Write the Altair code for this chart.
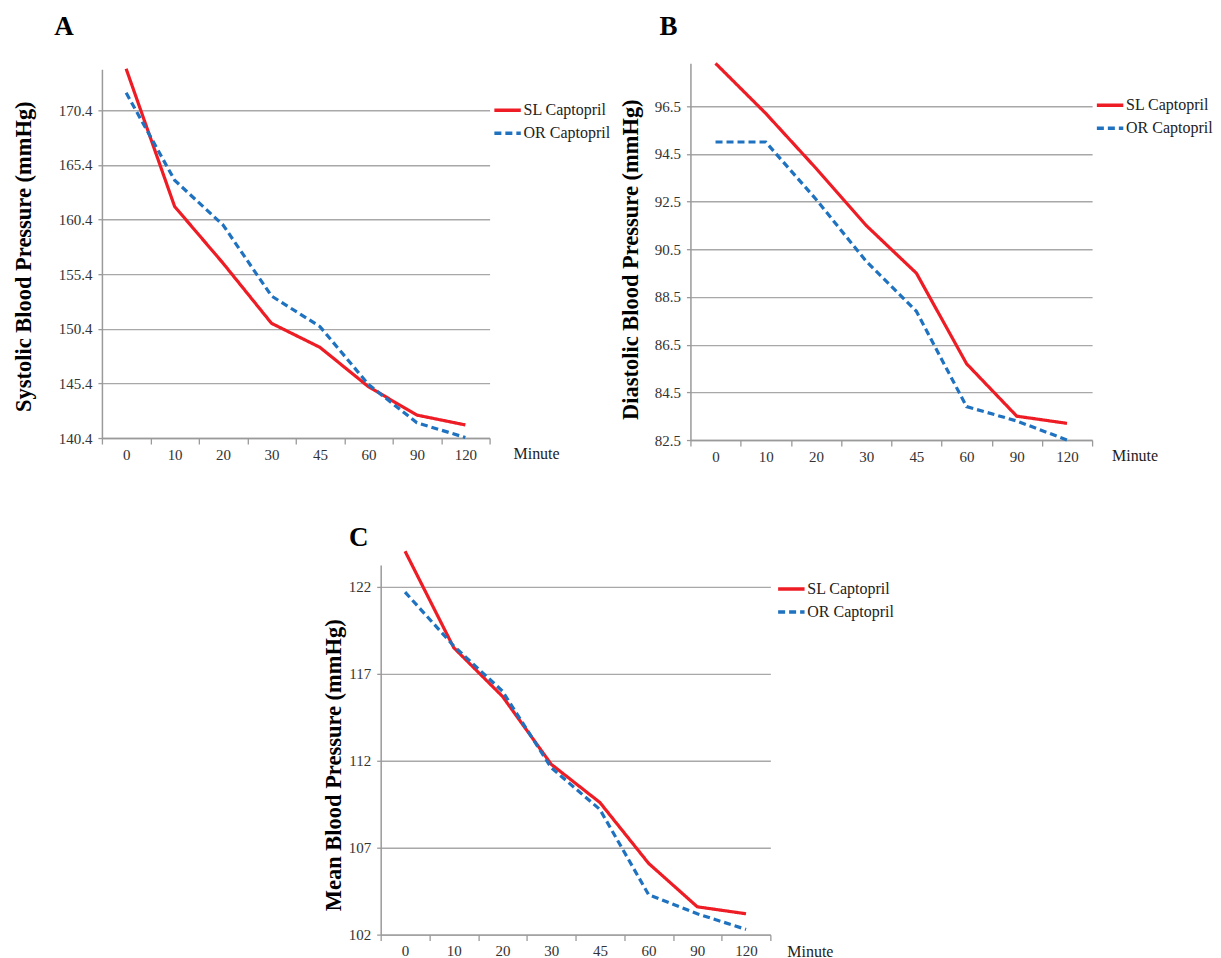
import altair as alt
import pandas as pd

minutes = ["0", "10", "20", "30", "45", "60", "90", "120"]
series = ["SL Captopril", "OR Captopril"]
colors = ["#EE1C24", "#1F72BF"]

sbp_sl = [174.2, 161.6, 156.4, 150.9, 148.7, 145.1, 142.5, 141.6]
sbp_or = [172.0, 164.0, 159.9, 153.4, 150.6, 145.3, 141.8, 140.45]
dbp_sl = [98.3, 96.2, 93.9, 91.5, 89.5, 85.7, 83.5, 83.2]
dbp_or = [95.0, 95.0, 92.6, 90.0, 87.9, 83.9, 83.3, 82.5]
map_sl = [124.05, 118.5, 115.7, 111.8, 109.6, 106.1, 103.6, 103.2]
map_or = [121.7, 118.6, 116.0, 111.6, 109.2, 104.3, 103.2, 102.3]

sbp_ticks = [140.4, 145.4, 150.4, 155.4, 160.4, 165.4, 170.4]
dbp_ticks = [82.5, 84.5, 86.5, 88.5, 90.5, 92.5, 94.5, 96.5]
map_ticks = [102, 107, 112, 117, 122]

SERIF = "Liberation Serif"


def panel(sl, orr, ticks, fmt, dom, yrange, w, h, ytitle, letter,
          title_x, title_y, letter_xy, minute_xy, legend_xy):
    df = pd.DataFrame({
        "Minute": minutes * 2,
        "Value": sl + orr,
        "Series": [series[0]] * len(minutes) + [series[1]] * len(minutes),
    })
    leg = alt.Legend(
        title=None, orient="none", legendX=legend_xy[0], legendY=legend_xy[1],
        symbolType="stroke", symbolSize=700, symbolStrokeWidth=3.5,
        labelFont=SERIF, labelFontSize=16, labelColor="#222",
        labelOffset=1, rowPadding=0, padding=0, symbolOffset=0,
    )
    lines = alt.Chart(df).mark_line(strokeWidth=3.2).encode(
        x=alt.X("Minute:N", sort=minutes,
                scale=alt.Scale(type="band", paddingInner=0, paddingOuter=0),
                axis=alt.Axis(title=None, labelAngle=0, tickBand="extent", grid=False,
                              domainColor="#9a9a9a", domainWidth=1.5,
                              tickColor="#9a9a9a", tickSize=6, tickWidth=1.3,
                              labelFont=SERIF, labelFontSize=15, labelColor="#333",
                              labelPadding=3)),
        y=alt.Y("Value:Q",
                scale=alt.Scale(domain=dom, range=yrange, zero=False, nice=False),
                axis=alt.Axis(values=ticks, format=fmt, title=ytitle,
                              titleFont=SERIF, titleFontSize=22.5, titleFontWeight="bold",
                              titleColor="#000", titleX=title_x, titleY=title_y,
                              titleBaseline="middle", titleAngle=270,
                              domainColor="#9a9a9a", domainWidth=1.5,
                              gridColor="#a8a8a8", gridWidth=1.4,
                              tickColor="#9a9a9a", tickSize=4, tickWidth=1.3,
                              labelFont=SERIF, labelFontSize=15, labelColor="#333",
                              labelPadding=6)),
        color=alt.Color("Series:N", sort=series,
                        scale=alt.Scale(domain=series, range=colors), legend=leg),
        strokeDash=alt.StrokeDash("Series:N", sort=series,
                                  scale=alt.Scale(domain=series, range=[[1, 0], [7, 4]]),
                                  legend=leg),
    )
    lab = alt.Chart(pd.DataFrame({"t": [letter]})).mark_text(
        font=SERIF, fontSize=27, fontWeight="bold", color="#000",
        align="center", baseline="middle",
    ).encode(text="t:N", x=alt.value(letter_xy[0]), y=alt.value(letter_xy[1]))
    mnt = alt.Chart(pd.DataFrame({"t": ["Minute"]})).mark_text(
        font=SERIF, fontSize=16, color="#222", align="center", baseline="middle",
    ).encode(text="t:N", x=alt.value(minute_xy[0]), y=alt.value(minute_xy[1]))
    return alt.layer(lines, lab, mnt).properties(width=w, height=h)


A = panel(sbp_sl, sbp_or, sbp_ticks, ".1f", [140.4, 174.15], [375, 6], 388, 375,
          "Systolic Blood Pressure (mmHg)", "A", -78, 193,
          (-38, -36), (435, 391), (391, 32))
B = panel(dbp_sl, dbp_or, dbp_ticks, ".1f", [82.5, 98.3], [377, 0], 402, 377,
          "Diastolic Blood Pressure (mmHg)", "B", -60, 196,
          (-22, -36), (445, 393), (405, 27))
C = panel(map_sl, map_or, map_ticks, "d", [102, 123.26], [370, 0], 390, 370,
          "Mean Blood Pressure (mmHg)", "C", -47, 200,
          (-22, -27), (430, 387), (675, 9))

spacer = alt.Chart(pd.DataFrame({"a": [0]})).mark_point(opacity=0).encode(
    x=alt.value(0), y=alt.value(0)
).properties(width=279, height=10)

top = alt.hconcat(A, B, spacing=201, bounds="flush").resolve_scale(
    color="independent", strokeDash="independent"
).resolve_legend(color="independent", strokeDash="independent")
bottom = alt.hconcat(spacer, C, spacing=0, bounds="flush")

chart = alt.vconcat(top, bottom, spacing=502, bounds="flush").configure_view(
    strokeWidth=0
).configure_legend(
    labelFont=SERIF, labelFontSize=16, labelColor="#222"
).resolve_scale(color="independent", strokeDash="independent").properties(
    background="white",
    padding={"left": 4, "top": 5, "right": 0, "bottom": 0},
)

chart.save("out.html", embed_options={"renderer": "svg", "actions": False})
